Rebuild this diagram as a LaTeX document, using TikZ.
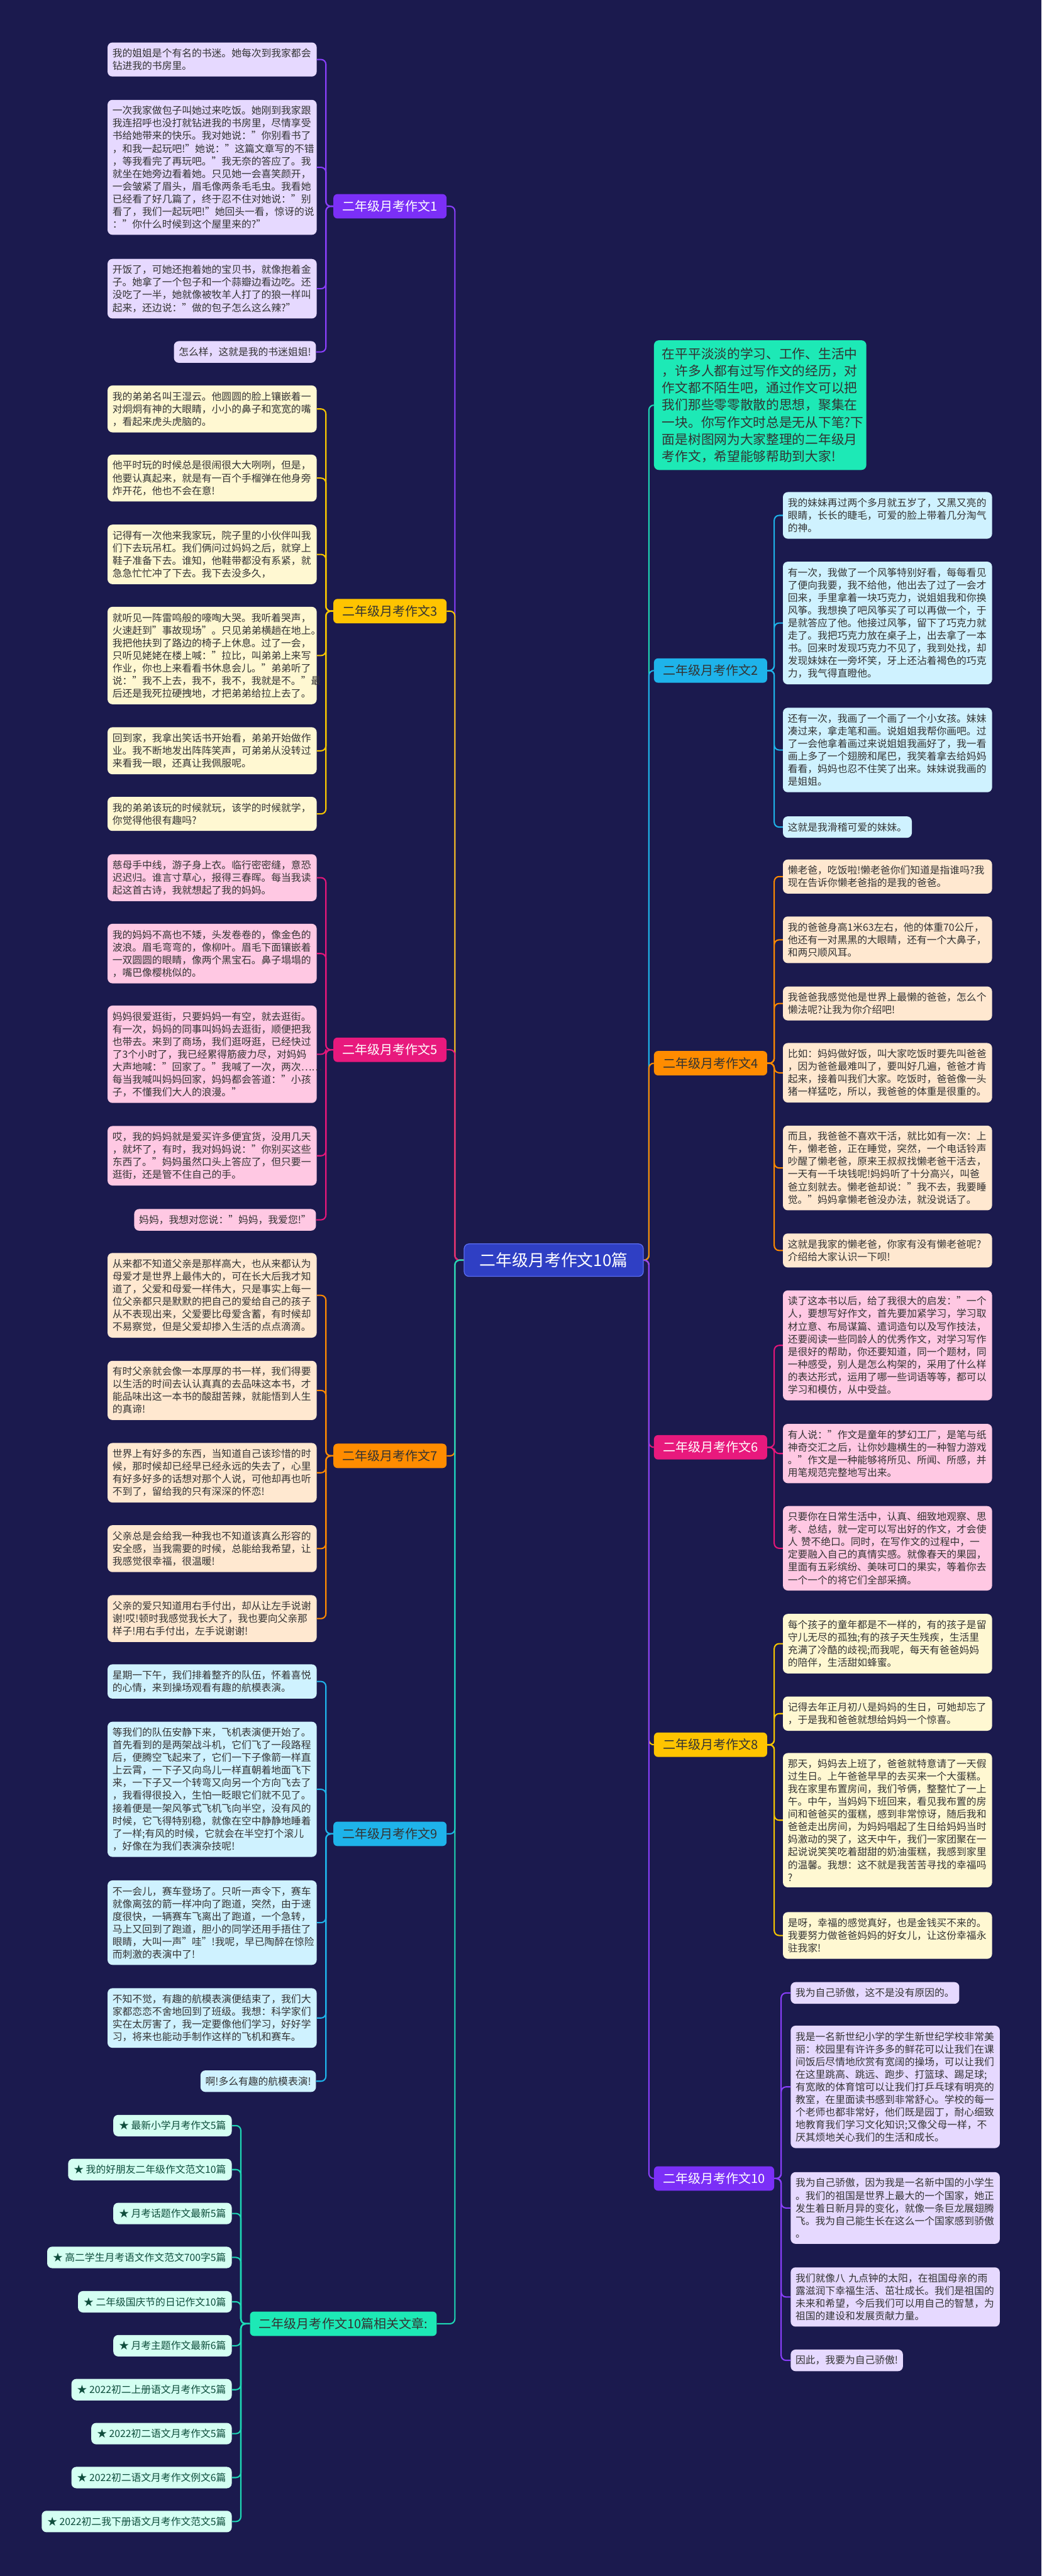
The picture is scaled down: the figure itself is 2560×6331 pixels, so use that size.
\documentclass[tikz,border=0pt]{standalone}
\usepackage{fontspec}
\setmainfont{Noto Sans CJK SC}
\definecolor{bg}{HTML}{1B1A4E}
\definecolor{pline}{HTML}{8A3FFC}
\definecolor{pnode}{HTML}{7B2FF7}
\definecolor{pleaf}{HTML}{E6D9FF}
\definecolor{yline}{HTML}{F7C600}
\definecolor{ynode}{HTML}{FFC400}
\definecolor{yleaf}{HTML}{FFF8D2}
\definecolor{mline}{HTML}{E6177A}
\definecolor{mnode}{HTML}{E8197D}
\definecolor{mleaf}{HTML}{FFC8E3}
\definecolor{oline}{HTML}{FF8A00}
\definecolor{onode}{HTML}{FF8C00}
\definecolor{oleaf}{HTML}{FFE8D0}
\definecolor{cline}{HTML}{1EB3EA}
\definecolor{cnode}{HTML}{1EB3EA}
\definecolor{cleaf}{HTML}{CFF2FF}
\definecolor{tline}{HTML}{1ED9B5}
\definecolor{tnode}{HTML}{1DE9B6}
\definecolor{tleaf}{HTML}{D4FFF2}
\definecolor{rootc}{HTML}{2F3FC4}
\definecolor{rootb}{HTML}{5A6CF0}
\definecolor{ink}{HTML}{333333}
\definecolor{tink}{HTML}{0E4D3C}
\tikzset{
  leaf/.style={anchor=north west, rounded corners=6pt, text width=245pt, align=left, inner xsep=6pt, inner ysep=7.5pt, font=\fontsize{12.2pt}{15.5pt}\selectfont, text=ink},
  leafshortL/.style={anchor=north east, rounded corners=6pt, inner xsep=6pt, inner ysep=7.5pt, font=\fontsize{12.2pt}{15.5pt}\selectfont, text=ink},
  leafshortR/.style={anchor=north west, rounded corners=6pt, inner xsep=6pt, inner ysep=7.5pt, font=\fontsize{12.2pt}{15.5pt}\selectfont, text=ink},
  rel/.style={anchor=east, rounded corners=6pt, inner xsep=7pt, inner ysep=7.5pt, font=\fontsize{12.2pt}{15.5pt}\selectfont, text=tink, fill=tleaf},
  branch/.style={rounded corners=5pt, inner xsep=11pt, minimum height=30pt, font=\fontsize{15.5pt}{18pt}\selectfont},
  conn/.style={line width=1.6pt, rounded corners=6pt},
}
\begin{document}
\begin{tikzpicture}[x=0.5pt,y=-0.5pt]
\fill[bg] (0,0) rectangle (2560,6331);
\useasboundingbox (0,0) rectangle (2560,6331);

% root and description
\node[rounded corners=6pt, fill=rootc, draw=rootb, line width=1pt, text=white, inner xsep=19pt, minimum height=40pt, font=\fontsize{20pt}{24pt}\selectfont] (root) at (1361,3097) {二年级月考作文10篇};
\node[anchor=north west, rounded corners=6pt, fill=tnode, text=ink, text width=241pt, align=left, inner xsep=10pt, inner ysep=9pt, font=\fontsize{16pt}{21pt}\selectfont] (desc) at (1607,836) {在平平淡淡的学习、工作、生活中\\，许多人都有过写作文的经历，对\\作文都不陌生吧，通过作文可以把\\我们那些零零散散的思想，聚集在\\一块。你写作文时总是无从下笔?下\\面是树图网为大家整理的二年级月\\考作文，希望能够帮助到大家!};

% branch nodes
\node[branch, anchor=east, fill=pnode, text=white] (n1) at (1098,507) {二年级月考作文1};
\node[branch, anchor=east, fill=ynode, text=ink] (n3) at (1098,1502) {二年级月考作文3};
\node[branch, anchor=east, fill=mnode, text=white] (n5) at (1098,2580) {二年级月考作文5};
\node[branch, anchor=east, fill=onode, text=ink] (n7) at (1098,3578) {二年级月考作文7};
\node[branch, anchor=east, fill=cnode, text=ink] (n9) at (1098,4507) {二年级月考作文9};
\node[branch, anchor=west, fill=tnode, text=ink] (hub) at (614,5711) {二年级月考作文10篇相关文章:};
\node[branch, anchor=west, fill=cnode, text=ink] (n2) at (1607,1648) {二年级月考作文2};
\node[branch, anchor=west, fill=onode, text=ink] (n4) at (1607,2613) {二年级月考作文4};
\node[branch, anchor=west, fill=mnode, text=white] (n6) at (1607,3557) {二年级月考作文6};
\node[branch, anchor=west, fill=ynode, text=ink] (n8) at (1607,4288) {二年级月考作文8};
\node[branch, anchor=west, fill=pnode, text=white] (n10) at (1607,5354) {二年级月考作文10};

% branch 1
\node[leaf, fill=pleaf] (a1) at (264,104) {我的姐姐是个有名的书迷。她每次到我家都会\\钻进我的书房里。};
\node[leaf, fill=pleaf] (a2) at (264,245) {一次我家做包子叫她过来吃饭。她刚到我家跟\\我连招呼也没打就钻进我的书房里，尽情享受\\书给她带来的快乐。我对她说："你别看书了\\，和我一起玩吧!"她说："这篇文章写的不错\\，等我看完了再玩吧。"我无奈的答应了。我\\就坐在她旁边看着她。只见她一会喜笑颜开，\\一会皱紧了眉头，眉毛像两条毛毛虫。我看她\\已经看了好几篇了，终于忍不住对她说："别\\看了，我们一起玩吧!"她回头一看，惊讶的说\\："你什么时候到这个屋里来的?"};
\node[leaf, fill=pleaf] (a3) at (264,636) {开饭了，可她还抱着她的宝贝书，就像抱着金\\子。她拿了一个包子和一个蒜瓣边看边吃。还\\没吃了一半，她就像被牧羊人打了的狼一样叫\\起来，还边说："做的包子怎么这么辣?"};
\node[leafshortL, fill=pleaf] (a4) at (777,838) {怎么样，这就是我的书迷姐姐!};

% branch 3
\node[leaf, fill=yleaf] (b1) at (264,947) {我的弟弟名叫王湿云。他圆圆的脸上镶嵌着一\\对炯炯有神的大眼睛，小小的鼻子和宽宽的嘴\\，看起来虎头虎脑的。};
\node[leaf, fill=yleaf] (b2) at (264,1117) {他平时玩的时候总是很闹很大大咧咧，但是，\\他要认真起来，就是有一百个手榴弹在他身旁\\炸开花，他也不会在意!};
\node[leaf, fill=yleaf] (b3) at (264,1289) {记得有一次他来我家玩，院子里的小伙伴叫我\\们下去玩吊杠。我们俩问过妈妈之后，就穿上\\鞋子准备下去。谁知，他鞋带都没有系紧，就\\急急忙忙冲了下去。我下去没多久，};
\node[leaf, fill=yleaf] (b4) at (264,1491) {就听见一阵雷鸣般的嚎啕大哭。我听着哭声，\\火速赶到"事故现场"。只见弟弟横趟在地上。\\我把他扶到了路边的椅子上休息。过了一会，\\只听见姥姥在楼上喊："拉比，叫弟弟上来写\\作业，你也上来看看书休息会儿。"弟弟听了\\说："我不上去，我不，我不，我就是不。"最\\后还是我死拉硬拽地，才把弟弟给拉上去了。};
\node[leaf, fill=yleaf] (b5) at (264,1787) {回到家，我拿出笑话书开始看，弟弟开始做作\\业。我不断地发出阵阵笑声，可弟弟从没转过\\来看我一眼，还真让我佩服呢。};
\node[leaf, fill=yleaf] (b6) at (264,1958) {我的弟弟该玩的时候就玩，该学的时候就学，\\你觉得他很有趣吗?};

% branch 5
\node[leaf, fill=mleaf] (c1) at (264,2099) {慈母手中线，游子身上衣。临行密密缝，意恐\\迟迟归。谁言寸草心，报得三春晖。每当我读\\起这首古诗，我就想起了我的妈妈。};
\node[leaf, fill=mleaf] (c2) at (264,2270) {我的妈妈不高也不矮，头发卷卷的，像金色的\\波浪。眉毛弯弯的，像柳叶。眉毛下面镶嵌着\\一双圆圆的眼睛，像两个黑宝石。鼻子塌塌的\\，嘴巴像樱桃似的。};
\node[leaf, fill=mleaf] (c3) at (264,2471) {妈妈很爱逛街，只要妈妈一有空，就去逛街。\\有一次，妈妈的同事叫妈妈去逛街，顺便把我\\也带去。来到了商场，我们逛呀逛，已经快过\\了3个小时了，我已经累得筋疲力尽，对妈妈\\大声地喊："回家了。"我喊了一次，两次……\\每当我喊叫妈妈回家，妈妈都会答道："小孩\\子，不懂我们大人的浪漫。"};
\node[leaf, fill=mleaf] (c4) at (264,2767) {哎，我的妈妈就是爱买许多便宜货，没用几天\\，就坏了，有时，我对妈妈说："你别买这些\\东西了。"妈妈虽然口头上答应了，但只要一\\逛街，还是管不住自己的手。};
\node[leafshortL, fill=mleaf] (c5) at (777,2971) {妈妈，我想对您说："妈妈，我爱您!"};

% branch 7
\node[leaf, fill=oleaf] (d1) at (264,3079) {从来都不知道父亲是那样高大，也从来都认为\\母爱才是世界上最伟大的，可在长大后我才知\\道了，父爱和母爱一样伟大，只是事实上每一\\位父亲都只是默默的把自己的爱给自己的孩子\\从不表现出来，父爱要比母爱含蓄，有时候却\\不易察觉，但是父爱却掺入生活的点点滴滴。};
\node[leaf, fill=oleaf] (d2) at (264,3344) {有时父亲就会像一本厚厚的书一样，我们得要\\以生活的时间去认认真真的去品味这本书，才\\能品味出这一本书的酸甜苦辣，就能悟到人生\\的真谛!};
\node[leaf, fill=oleaf] (d3) at (264,3546) {世界上有好多的东西，当知道自己该珍惜的时\\候，那时候却已经早已经永远的失去了，心里\\有好多好多的话想对那个人说，可他却再也听\\不到了，留给我的只有深深的怀恋!};
\node[leaf, fill=oleaf] (d4) at (264,3748) {父亲总是会给我一种我也不知道该真么形容的\\安全感，当我需要的时候，总能给我希望，让\\我感觉很幸福，很温暖!};
\node[leaf, fill=oleaf] (d5) at (264,3920) {父亲的爱只知道用右手付出，却从让左手说谢\\谢!哎!顿时我感觉我长大了，我也要向父亲那\\样子!用右手付出，左手说谢谢!};

% branch 9
\node[leaf, fill=cleaf] (e1) at (264,4090) {星期一下午，我们排着整齐的队伍，怀着喜悦\\的心情，来到操场观看有趣的航模表演。};
\node[leaf, fill=cleaf] (e2) at (264,4231) {等我们的队伍安静下来，飞机表演便开始了。\\首先看到的是两架战斗机，它们飞了一段路程\\后，便腾空飞起来了，它们一下子像箭一样直\\上云霄，一下子又向鸟儿一样直朝着地面飞下\\来，一下子又一个转弯又向另一个方向飞去了\\，我看得很投入，生怕一眨眼它们就不见了。\\接着便是一架风筝式飞机飞向半空，没有风的\\时候，它飞得特别稳，就像在空中静静地睡着\\了一样;有风的时候，它就会在半空打个滚儿\\，好像在为我们表演杂技呢!};
\node[leaf, fill=cleaf] (e3) at (264,4621) {不一会儿，赛车登场了。只听一声令下，赛车\\就像离弦的箭一样冲向了跑道，突然，由于速\\度很快，一辆赛车飞离出了跑道，一个急转，\\马上又回到了跑道，胆小的同学还用手捂住了\\眼睛，大叫一声"哇"!我呢，早已陶醉在惊险\\而刺激的表演中了!};
\node[leaf, fill=cleaf] (e4) at (264,4886) {不知不觉，有趣的航模表演便结束了，我们大\\家都恋恋不舍地回到了班级。我想：科学家们\\实在太厉害了，我一定要像他们学习，好好学\\习，将来也能动手制作这样的飞机和赛车。};
\node[leafshortL, fill=cleaf] (e5) at (777,5088) {啊!多么有趣的航模表演!};

% related
\node[rel] (r1) at (570,5224) {★ 最新小学月考作文5篇};
\node[rel] (r2) at (570,5332) {★ 我的好朋友二年级作文范文10篇};
\node[rel] (r3) at (570,5440) {★ 月考话题作文最新5篇};
\node[rel] (r4) at (570,5548) {★ 高二学生月考语文作文范文700字5篇};
\node[rel] (r5) at (570,5657) {★ 二年级国庆节的日记作文10篇};
\node[rel] (r6) at (570,5765) {★ 月考主题作文最新6篇};
\node[rel] (r7) at (570,5873) {★ 2022初二上册语文月考作文5篇};
\node[rel] (r8) at (570,5981) {★ 2022初二语文月考作文5篇};
\node[rel] (r9) at (570,6089) {★ 2022初二语文月考作文例文6篇};
\node[rel] (r10) at (570,6197) {★ 2022初二我下册语文月考作文范文5篇};

% branch 2
\node[leaf, fill=cleaf] (f1) at (1924,1209) {我的妹妹再过两个多月就五岁了，又黑又亮的\\眼睛，长长的睫毛，可爱的脸上带着几分淘气\\的神。};
\node[leaf, fill=cleaf] (f2) at (1924,1380) {有一次，我做了一个风筝特别好看，每每看见\\了便向我要，我不给他，他出去了过了一会才\\回来，手里拿着一块巧克力，说姐姐我和你换\\风筝。我想换了吧风筝买了可以再做一个，于\\是就答应了他。他接过风筝，留下了巧克力就\\走了。我把巧克力放在桌子上，出去拿了一本\\书。回来时发现巧克力不见了，我到处找，却\\发现妹妹在一旁坏笑，牙上还沾着褐色的巧克\\力，我气得直瞪他。};
\node[leaf, fill=cleaf] (f3) at (1924,1739) {还有一次，我画了一个画了一个小女孩。妹妹\\凑过来，拿走笔和画。说姐姐我帮你画吧。过\\了一会他拿着画过来说姐姐我画好了，我一看\\画上多了一个翅膀和尾巴，我笑着拿去给妈妈\\看看，妈妈也忍不住笑了出来。妹妹说我画的\\是姐姐。};
\node[leafshortR, fill=cleaf] (f4) at (1924,2006) {这就是我滑稽可爱的妹妹。};

% branch 4
\node[leaf, fill=oleaf] (g1) at (1924,2112) {懒老爸，吃饭啦!懒老爸你们知道是指谁吗?我\\现在告诉你懒老爸指的是我的爸爸。};
\node[leaf, fill=oleaf] (g2) at (1924,2252) {我的爸爸身高1米63左右，他的体重70公斤，\\他还有一对黑黑的大眼睛，还有一个大鼻子，\\和两只顺风耳。};
\node[leaf, fill=oleaf] (g3) at (1924,2424) {我爸爸我感觉他是世界上最懒的爸爸，怎么个\\懒法呢?让我为你介绍吧!};
\node[leaf, fill=oleaf] (g4) at (1924,2563) {比如：妈妈做好饭，叫大家吃饭时要先叫爸爸\\，因为爸爸最难叫了，要叫好几遍，爸爸才肯\\起来，接着叫我们大家。吃饭时，爸爸像一头\\猪一样猛吃，所以，我爸爸的体重是很重的。};
\node[leaf, fill=oleaf] (g5) at (1924,2766) {而且，我爸爸不喜欢干活，就比如有一次：上\\午，懒老爸，正在睡觉，突然，一个电话铃声\\吵醒了懒老爸，原来王叔叔找懒老爸干活去，\\一天有一千块钱呢!妈妈听了十分高兴，叫爸\\爸立刻就去。懒老爸却说："我不去，我要睡\\觉。"妈妈拿懒老爸没办法，就没说话了。};
\node[leaf, fill=oleaf] (g6) at (1924,3031) {这就是我家的懒老爸，你家有没有懒老爸呢?\\介绍给大家认识一下呗!};

% branch 6
\node[leaf, fill=mleaf] (h1) at (1924,3171) {读了这本书以后，给了我很大的启发："一个\\人，要想写好作文，首先要加紧学习，学习取\\材立意、布局谋篇、遣词造句以及写作技法，\\还要阅读一些同龄人的优秀作文，对学习写作\\是很好的帮助，你还要知道，同一个题材，同\\一种感受，别人是怎么构架的，采用了什么样\\的表达形式，运用了哪一些词语等等，都可以\\学习和模仿，从中受益。};
\node[leaf, fill=mleaf] (h2) at (1924,3499) {有人说："作文是童年的梦幻工厂，是笔与纸\\神奇交汇之后，让你妙趣横生的一种智力游戏\\。"作文是一种能够将所见、所闻、所感，并\\用笔规范完整地写出来。};
\node[leaf, fill=mleaf] (h3) at (1924,3701) {只要你在日常生活中，认真、细致地观察、思\\考、总结，就一定可以写出好的作文，才会使\\人 赞不绝口。同时，在写作文的过程中，一\\定要融入自己的真情实感。就像春天的果园，\\里面有五彩缤纷、美味可口的果实，等着你去\\一个一个的将它们全部采摘。};

% branch 8
\node[leaf, fill=yleaf] (i1) at (1924,3966) {每个孩子的童年都是不一样的，有的孩子是留\\守儿无尽的孤独;有的孩子天生残疾，生活里\\充满了冷酷的歧视;而我呢，每天有爸爸妈妈\\的陪伴，生活甜如蜂蜜。};
\node[leaf, fill=yleaf] (i2) at (1924,4169) {记得去年正月初八是妈妈的生日，可她却忘了\\，于是我和爸爸就想给妈妈一个惊喜。};
\node[leaf, fill=yleaf] (i3) at (1924,4308) {那天，妈妈去上班了，爸爸就特意请了一天假\\过生日。上午爸爸早早的去买来一个大蛋糕。\\我在家里布置房间，我们爷俩，整整忙了一上\\午。中午，当妈妈下班回来，看见我布置的房\\间和爸爸买的蛋糕，感到非常惊讶，随后我和\\爸爸走出房间，为妈妈唱起了生日给妈妈当时\\妈激动的哭了，这天中午，我们一家团聚在一\\起说说笑笑吃着甜甜的奶油蛋糕，我感到家里\\的温馨。我想：这不就是我苦苦寻找的幸福吗\\?};
\node[leaf, fill=yleaf] (i4) at (1924,4699) {是呀，幸福的感觉真好，也是金钱买不来的。\\我要努力做爸爸妈妈的好女儿，让这份幸福永\\驻我家!};

% branch 10
\node[leafshortR, fill=pleaf] (j1) at (1943,4871) {我为自己骄傲，这不是没有原因的。};
\node[leaf, fill=pleaf] (j2) at (1943,4978) {我是一名新世纪小学的学生新世纪学校非常美\\丽：校园里有许许多多的鲜花可以让我们在课\\间饭后尽情地欣赏有宽阔的操场，可以让我们\\在这里跳高、跳远、跑步、打篮球、踢足球;\\有宽敞的体育馆可以让我们打乒乓球有明亮的\\教室，在里面读书感到非常舒心。学校的每一\\个老师也都非常好，他们既是园丁，耐心细致\\地教育我们学习文化知识;又像父母一样，不\\厌其烦地关心我们的生活和成长。};
\node[leaf, fill=pleaf] (j3) at (1943,5338) {我为自己骄傲，因为我是一名新中国的小学生\\。我们的祖国是世界上最大的一个国家，她正\\发生着日新月异的变化，就像一条巨龙展翅腾\\飞。我为自己能生长在这么一个国家感到骄傲\\。};
\node[leaf, fill=pleaf] (j4) at (1943,5572) {我们就像八 九点钟的太阳，在祖国母亲的雨\\露滋润下幸福生活、茁壮成长。我们是祖国的\\未来和希望，今后我们可以用自己的智慧，为\\祖国的建设和发展贡献力量。};
\node[leafshortR, fill=pleaf] (j5) at (1943,5774) {因此，我要为自己骄傲!};

% trunk coordinates
\coordinate (RL) at (1118,3097);
\coordinate (RR) at (1595,3097);
\coordinate (T1) at (801,507);
\coordinate (T3) at (801,1502);
\coordinate (T5) at (801,2580);
\coordinate (T7) at (801,3578);
\coordinate (T9) at (801,4507);
\coordinate (TH) at (592,5711);
\coordinate (T2) at (1903,1648);
\coordinate (T4) at (1903,2613);
\coordinate (T6) at (1903,3557);
\coordinate (T8) at (1903,4288);
\coordinate (T10) at (1920,5354);

% root connectors
\draw[conn, pline] (root.west) -- (RL) |- (n1.east);
\draw[conn, yline] (root.west) -- (RL) |- (n3.east);
\draw[conn, mline] (root.west) -- (RL) |- (n5.east);
\draw[conn, oline] (root.west) -- (RL) |- (n7.east);
\draw[conn, cline] (root.west) -- (RL) |- (n9.east);
\draw[conn, tline] (root.west) -- (RL) |- (hub.east);
\draw[conn, tline] (root.east) -- (RR) |- (desc.west);
\draw[conn, cline] (root.east) -- (RR) |- (n2.west);
\draw[conn, oline] (root.east) -- (RR) |- (n4.west);
\draw[conn, mline] (root.east) -- (RR) |- (n6.west);
\draw[conn, yline] (root.east) -- (RR) |- (n8.west);
\draw[conn, pline] (root.east) -- (RR) |- (n10.west);

% leaf connectors
\foreach \l in {a1,a2,a3,a4} \draw[conn, pline] (n1.west) -- (T1) |- (\l.east);
\foreach \l in {b1,b2,b3,b4,b5,b6} \draw[conn, yline] (n3.west) -- (T3) |- (\l.east);
\foreach \l in {c1,c2,c3,c4,c5} \draw[conn, mline] (n5.west) -- (T5) |- (\l.east);
\foreach \l in {d1,d2,d3,d4,d5} \draw[conn, oline] (n7.west) -- (T7) |- (\l.east);
\foreach \l in {e1,e2,e3,e4,e5} \draw[conn, cline] (n9.west) -- (T9) |- (\l.east);
\foreach \l in {r1,r2,r3,r4,r5,r6,r7,r8,r9,r10} \draw[conn, tline] (hub.west) -- (TH) |- (\l.east);
\foreach \l in {f1,f2,f3,f4} \draw[conn, cline] (n2.east) -- (T2) |- (\l.west);
\foreach \l in {g1,g2,g3,g4,g5,g6} \draw[conn, oline] (n4.east) -- (T4) |- (\l.west);
\foreach \l in {h1,h2,h3} \draw[conn, mline] (n6.east) -- (T6) |- (\l.west);
\foreach \l in {i1,i2,i3,i4} \draw[conn, yline] (n8.east) -- (T8) |- (\l.west);
\foreach \l in {j1,j2,j3,j4,j5} \draw[conn, pline] (n10.east) -- (T10) |- (\l.west);
\end{tikzpicture}
\end{document}
